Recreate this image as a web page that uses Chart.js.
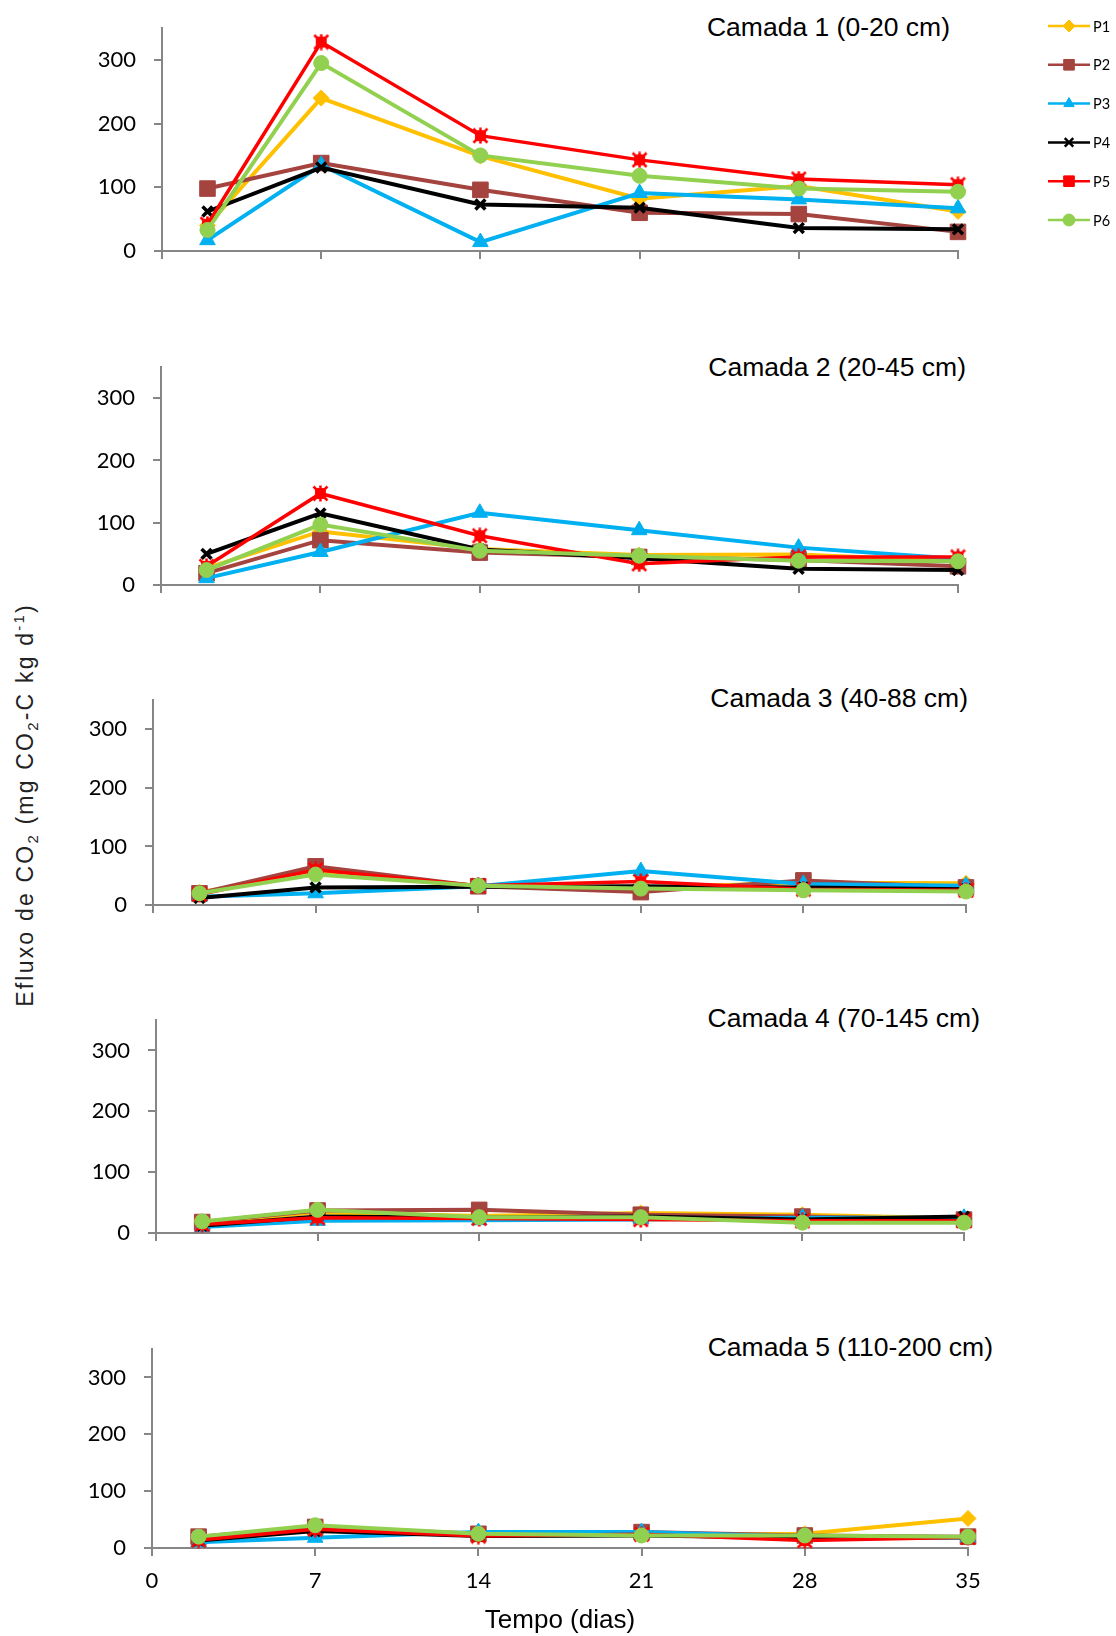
<!DOCTYPE html>
<html>
<head>
<meta charset="utf-8">
<script src="https://cdn.jsdelivr.net/npm/chart.js@4.4.1/dist/chart.umd.min.js"></script>
<style>
  body { margin: 0; background: #fff; width: 1116px; height: 1636px; position: relative; overflow: hidden; }
  .painel { position: absolute; left: 0; }
  .titulo { position: absolute; font-family: 'Liberation Sans', Arial, sans-serif; font-size: 26.5px; line-height: 30px; white-space: nowrap; color: #000; }
  #ytitulo { position: absolute; left: 25px; top: 805px; transform: translate(-50%, -50%) rotate(-90deg);
             font-family: 'Liberation Sans', Arial, sans-serif; font-size: 23px; white-space: nowrap; color: #222; letter-spacing: 2.2px; }
  #ytitulo sub, #ytitulo sup { font-size: 0.65em; line-height: 0; }
</style>
</head>
<body>
<div id="ytitulo">Efluxo de CO<sub>2</sub> (mg CO<sub>2</sub>-C kg d<sup>-1</sup>)</div>

<script>
// dias de coleta
const dias = [2, 7, 14, 21, 28, 35];
const series = ['P1', 'P2', 'P3', 'P4', 'P5', 'P6'];
const camadas = ['Camada 1 (0-20 cm)', 'Camada 2 (20-45 cm)', 'Camada 3 (40-88 cm)', 'Camada 4 (70-145 cm)', 'Camada 5 (110-200 cm)'];
const diasTicks = [0, 7, 14, 21, 28, 35];
const efluxoTicks = [0, 100, 200, 300];

// efluxo por camada, uma linha por ponto (P1..P6)
const camada1 = [
  [40, 240, 149, 82, 102, 62],
  [98, 138, 96, 60, 58, 30],
  [17, 135, 14, 91, 81, 67],
  [62, 131, 73, 68, 36, 34],
  [42, 328, 181, 143, 113, 104],
  [33, 295, 150, 118, 98, 93]
];
const camada2 = [
  [27, 86, 58, 48, 49, 38],
  [19, 72, 52, 45, 40, 30],
  [11, 53, 116, 88, 60, 42],
  [50, 115, 57, 43, 26, 24],
  [30, 147, 79, 34, 45, 45],
  [24, 97, 55, 47, 39, 38]
];
const camada3 = [
  [22, 55, 33, 30, 38, 37],
  [20, 66, 32, 22, 42, 30],
  [14, 20, 32, 58, 36, 33],
  [12, 30, 31, 32, 30, 27],
  [18, 60, 33, 40, 27, 25],
  [20, 52, 33, 28, 25, 23]
];
const camada4 = [
  [17, 34, 28, 33, 30, 24],
  [18, 37, 38, 30, 27, 22],
  [10, 20, 21, 22, 25, 25],
  [12, 27, 25, 27, 22, 27],
  [14, 25, 24, 22, 20, 20],
  [19, 38, 26, 26, 17, 17]
];
const camada5 = [
  [15, 35, 22, 23, 25, 52],
  [20, 37, 25, 28, 22, 20],
  [10, 18, 28, 28, 20, 18],
  [13, 30, 21, 22, 18, 19],
  [14, 33, 21, 24, 13, 19],
  [20, 40, 25, 22, 22, 20]
];
const dados = [camada1, camada2, camada3, camada4, camada5];

const cores = ['#FFC000', '#A5433F', '#00B0F0', '#000000', '#FF0000', '#92D050'];

// marcador estrela do P5 (quadrado com raios)
function marcadorEstrela(cor, tam) {
  var c = document.createElement('canvas');
  c.width = tam; c.height = tam;
  var g = c.getContext('2d');
  var m = tam / 2;
  g.fillStyle = cor;
  g.fillRect(m - tam * 0.32, m - tam * 0.32, tam * 0.64, tam * 0.64);
  g.strokeStyle = cor;
  g.lineWidth = 2.5;
  g.beginPath();
  g.moveTo(1.5, 1.5); g.lineTo(tam - 1.5, tam - 1.5);
  g.moveTo(tam - 1.5, 1.5); g.lineTo(1.5, tam - 1.5);
  g.moveTo(m, 0.5); g.lineTo(m, tam - 0.5);
  g.stroke();
  return c;
}

const estilos = [
  { pointStyle: 'rectRot', pointRadius: 8, pointBorderWidth: 1 },
  { pointStyle: 'rect', pointRadius: 11, pointBorderWidth: 1 },
  { pointStyle: 'triangle', pointRadius: 9, pointBorderWidth: 1 },
  { pointStyle: 'crossRot', pointRadius: 7, pointBorderWidth: 3.5 },
  { pointStyle: marcadorEstrela('#FF0000', 17), pointRadius: 8, pointBorderWidth: 1 },
  { pointStyle: 'circle', pointRadius: 7.5, pointBorderWidth: 1 }
];
const legendaEstilos = ['rectRot', 'rect', 'triangle', 'crossRot', 'rect', 'circle'];

// caixas dos graficos na pagina
const paineis = [
  { top: 28, bottom: 251, left: 162, right: 958, tituloDir: 950, tituloY: 27 },
  { top: 367, bottom: 585, left: 161, right: 958, tituloDir: 966, tituloY: 367 },
  { top: 700, bottom: 905, left: 153, right: 966, tituloDir: 968, tituloY: 698 },
  { top: 1020, bottom: 1233, left: 156, right: 964, tituloDir: 980, tituloY: 1018 },
  { top: 1349, bottom: 1548, left: 152, right: 968, tituloDir: 993, tituloY: 1347 }
];
const PAD = 20;
const W = 1116;

const cinza = '#868686';

// sem folga extra das escalas, a area do grafico fica exatamente na caixa
function semFolga(s) {
  s.paddingTop = 0; s.paddingBottom = 0; s.paddingLeft = 0; s.paddingRight = 0;
}

// legenda do primeiro painel: linha + marcador + nome
var legenda = {
  id: 'legenda',
  afterDraw: function(chart, args, opts) {
    if (!opts.mostrar) return;
    var ctx = chart.ctx;
    chart.data.datasets.forEach(function(ds, i) {
      var y = 26 + i * 38.8 - opts.offsetY;
      ctx.save();
      ctx.strokeStyle = ds.borderColor;
      ctx.lineWidth = 2.5;
      ctx.beginPath(); ctx.moveTo(1048, y); ctx.lineTo(1090, y); ctx.stroke();
      ctx.fillStyle = ds.backgroundColor;
      ctx.strokeStyle = ds.borderColor;
      ctx.lineWidth = i === 3 ? 2.5 : 1;
      Chart.helpers.drawPoint(ctx, { pointStyle: legendaEstilos[i], radius: i === 1 || i === 4 ? 7.5 : 6, rotation: 0, borderWidth: ctx.lineWidth }, 1069, y);
      ctx.fillStyle = '#000';
      ctx.font = '14.5px Lato';
      ctx.textBaseline = 'middle';
      ctx.fillText(series[i], 1093, y + 1);
      ctx.restore();
    });
  }
};

paineis.forEach(function(p, k) {
  var ultimo = k === paineis.length - 1;
  var baixo = ultimo ? 1636 - p.bottom : 20;
  var topo = p.top - PAD;
  var alt = (p.bottom - p.top) + PAD + baixo;

  var t = document.createElement('div');
  t.className = 'titulo';
  t.style.right = (W - p.tituloDir) + 'px';
  t.style.top = (p.tituloY - 15) + 'px';
  t.textContent = camadas[k];
  document.body.appendChild(t);

  var div = document.createElement('div');
  div.className = 'painel';
  div.style.top = topo + 'px';
  var cv = document.createElement('canvas');
  cv.width = W; cv.height = alt;
  cv.style.width = W + 'px'; cv.style.height = alt + 'px';
  div.appendChild(cv);
  document.body.appendChild(div);

  var datasets = series.map(function(nome, i) {
    return Object.assign({
      label: nome,
      data: dias.map(function(d, j) { return { x: d, y: dados[k][i][j] }; }),
      borderColor: cores[i],
      backgroundColor: cores[i],
      pointBackgroundColor: cores[i],
      pointBorderColor: cores[i],
      borderWidth: i === 4 ? 3.5 : 4,
      tension: 0,
      clip: false,
      order: series.length - i
    }, estilos[i]);
  });

  new Chart(cv.getContext('2d'), {
    type: 'line',
    data: { datasets: datasets },
    options: {
      responsive: false,
      animation: false,
      devicePixelRatio: 1,
      layout: { padding: { top: PAD, right: W - p.right, left: 0, bottom: 0 } },
      plugins: {
        legend: { display: false },
        tooltip: { enabled: false },
        legenda: { mostrar: k === 0, offsetY: topo }
      },
      scales: {
        x: {
          type: 'linear',
          min: diasTicks[0],
          max: diasTicks[diasTicks.length - 1],
          afterBuildTicks: function(s) { s.ticks = diasTicks.map(function(v) { return { value: v }; }); },
          ticks: { display: ultimo, color: '#000', font: { family: 'Lato', size: 22 }, padding: 12, maxRotation: 0 },
          grid: { drawOnChartArea: false, color: cinza, lineWidth: 2, tickLength: 8 },
          border: { color: cinza, width: 2 },
          title: { display: ultimo, text: 'Tempo (dias)', color: '#000', font: { family: 'Liberation Sans', size: 26 }, padding: 0 },
          afterFit: function(s) { s.height = baixo; semFolga(s); }
        },
        y: {
          min: 0,
          max: 350,
          afterBuildTicks: function(s) { s.ticks = efluxoTicks.map(function(v) { return { value: v }; }); },
          ticks: { color: '#000', font: { family: 'Lato', size: 22 }, padding: 18 },
          grid: { drawOnChartArea: false, color: cinza, lineWidth: 2, tickLength: 8 },
          border: { color: cinza, width: 2 },
          afterFit: function(s) { s.width = p.left; semFolga(s); }
        }
      }
    },
    plugins: [legenda]
  });
});
</script>
</body>
</html>
